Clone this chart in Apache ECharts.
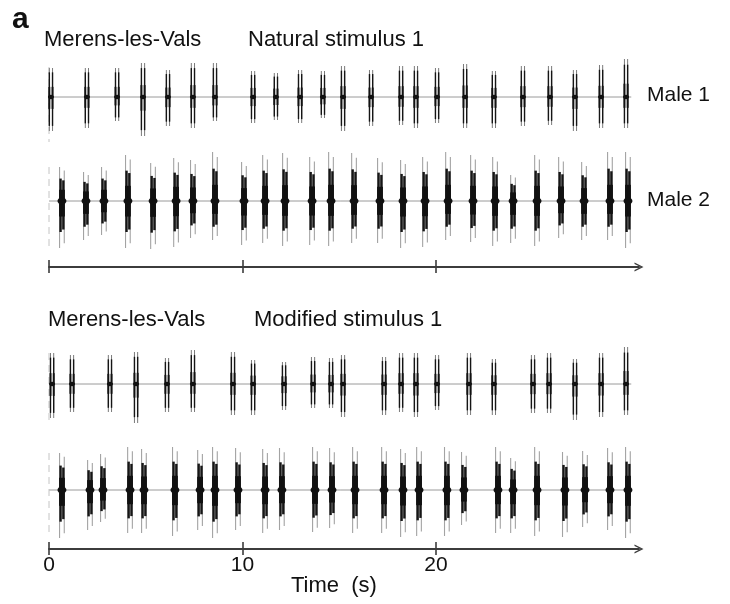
<!DOCTYPE html>
<html>
<head>
<meta charset="utf-8">
<script src="https://cdn.jsdelivr.net/npm/echarts@6/dist/echarts.min.js"></script>
<style>
html, body { margin: 0; padding: 0; background: #fff; }
#chart { width: 730px; height: 604px; }
</style>
</head>
<body>
<div id="chart"></div>
<script>
// burst onset times (s) with upper / lower extent of each burst (amplitude units)
const natMale1Times = [0.10, 1.96, 3.52, 4.86, 6.15, 7.44, 8.58, 10.55, 11.73, 12.98, 14.16, 15.20,
    16.65, 18.20, 18.97, 20.06, 21.51, 23.00, 24.50, 25.90, 27.19, 28.54, 29.83];
const natMale1Up = [29, 29, 29, 34, 27, 34, 34, 26, 24, 27, 26, 31, 27, 31, 31, 29, 33, 26, 31, 31, 27, 32, 38];
const natMale1Down = [34, 31, 24, 39, 29, 31, 24, 26, 23, 26, 21, 34, 29, 28, 31, 26, 31, 31, 29, 28, 34, 31, 31];

const natMale2Times = [0.67, 1.91, 2.84, 4.08, 5.38, 6.57, 7.44, 8.58, 10.08, 11.17, 12.20, 13.60, 14.58,
    15.77, 17.11, 18.30, 19.44, 20.63, 21.92, 23.06, 23.99, 25.23, 26.47, 27.66, 29.00, 29.93];
const natMale2Up = [34, 29, 34, 46, 38, 43, 41, 49, 39, 46, 48, 44, 49, 48, 43, 41, 44, 49, 46, 44, 26, 46, 44, 39, 49, 49];
const natMale2Down = [47, 39, 34, 47, 48, 46, 37, 39, 44, 42, 45, 44, 45, 42, 42, 47, 46, 39, 41, 45, 42, 45, 37, 39, 39, 47];

const modMale1Times = [0.16, 1.19, 3.15, 4.50, 6.10, 7.44, 9.51, 10.55, 12.15, 13.65, 14.58, 15.20,
    17.32, 18.20, 18.97, 20.06, 21.71, 23.00, 25.02, 25.85, 27.19, 28.54, 29.83];
const modMale1Up = [31, 29, 29, 32, 26, 34, 32, 24, 22, 27, 26, 29, 27, 31, 31, 29, 31, 25, 29, 31, 25, 31, 37];
const modMale1Down = [34, 28, 28, 39, 28, 28, 31, 31, 26, 24, 24, 33, 31, 28, 33, 26, 31, 31, 29, 29, 36, 33, 31];

const modMale2Times = [0.67, 2.12, 2.79, 4.19, 4.91, 6.51, 7.81, 8.58, 9.77, 11.17, 12.04, 13.75, 14.63,
    15.82, 17.32, 18.30, 19.13, 20.57, 21.45, 23.21, 23.99, 25.23, 26.67, 27.71, 29.00, 29.93];
const modMale2Up = [37, 30, 36, 43, 41, 43, 40, 43, 42, 41, 42, 43, 42, 43, 43, 41, 43, 43, 38, 43, 32, 43, 38, 39, 42, 43];
const modMale2Down = [48, 40, 32, 43, 43, 46, 40, 48, 40, 43, 40, 42, 38, 43, 43, 47, 46, 46, 35, 43, 43, 46, 47, 37, 40, 48];

const trackEnd = 30.1;
const tickValues = [0, 10, 20];
const X_MAX = 30.5;

const FONT = "Liberation Sans, Arial, sans-serif";
const ARROW = "path://M0,10L5,0L10,10L8.4,10L5,3.2L1.6,10Z";

function burstData(times, up, down) {
    return times.map((t, i) => [t, up[i], down[i]]);
}

// sparse track: two thin pulses per burst
function thinBurst(params, api) {
    const t = api.value(0);
    const top = api.coord([t, api.value(1)]);
    const bot = api.coord([t, -api.value(2)]);
    const x = top[0];
    const y = api.coord([t, 0])[1];
    const hu = y - top[1], hd = bot[1] - y;
    let kids = [];
    [-1.6, 1.6].forEach((dx) => {
        kids.push({type: "line", shape: {x1: x + dx, y1: top[1], x2: x + dx, y2: bot[1]},
            style: {stroke: "#7a7a7a", lineWidth: 1}});
        kids.push({type: "line", shape: {x1: x + dx, y1: y - hu * 0.85, x2: x + dx, y2: y + hd * 0.85},
            style: {stroke: "#151515", lineWidth: 1.4}});
        kids.push({type: "line", shape: {x1: x + dx, y1: y - hu * 0.35, x2: x + dx, y2: y + hd * 0.35},
            style: {stroke: "#111", lineWidth: 1.9}});
    });
    kids.push({type: "ellipse", shape: {cx: x, cy: y, rx: 3, ry: 2.2}, style: {fill: "#111"}});
    return {type: "group", children: kids};
}

// dense track: solid black pulse cores with grey tails
function denseBurst(params, api) {
    const t = api.value(0);
    const top = api.coord([t, api.value(1)]);
    const bot = api.coord([t, -api.value(2)]);
    const x = top[0];
    const y = api.coord([t, 0])[1];
    const hu = y - top[1], hd = bot[1] - y;
    let kids = [];
    [-2.4, 2.3].forEach((dx, k) => {
        const s = k === 0 ? 1 : 0.9;
        kids.push({type: "line", shape: {x1: x + dx, y1: y - hu * s, x2: x + dx, y2: y + hd * s},
            style: {stroke: "#a3a3a3", lineWidth: 1.1}});
    });
    [-1.4, 1.4].forEach((dx, k) => {
        const s = k === 0 ? 1 : 0.92;
        kids.push({type: "line", shape: {x1: x + dx, y1: y - hu * 0.66 * s, x2: x + dx, y2: y + hd * 0.66 * s},
            style: {stroke: "#161616", lineWidth: 2.4}});
        kids.push({type: "line", shape: {x1: x + dx, y1: y - hu * 0.33, x2: x + dx, y2: y + hd * 0.33},
            style: {stroke: "#111", lineWidth: 3}});
    });
    kids.push({type: "ellipse", shape: {cx: x, cy: y, rx: 4.5, ry: 3.5}, style: {fill: "#111"}});
    return {type: "group", children: kids};
}

function hiddenX(gridIndex) {
    return {type: "value", gridIndex: gridIndex, min: 0, max: X_MAX, show: false};
}

function timeAxes(gridIndex, offset, withLabels) {
    const tickStyle = {color: "#3c3c3c", width: 1.6};
    return [
        {
            type: "value", gridIndex: gridIndex, min: 0, max: X_MAX, position: "bottom", offset: offset,
            axisLine: {show: true, onZero: false, symbol: ["none", ARROW], symbolSize: [10, 9],
                lineStyle: {color: "#3c3c3c", width: 2}},
            axisTick: {show: true, inside: false, length: 6, customValues: tickValues, lineStyle: tickStyle},
            axisLabel: {show: withLabels, customValues: tickValues, margin: 6, fontSize: 21,
                color: "#111", fontFamily: FONT},
            splitLine: {show: false},
        },
        {
            type: "value", gridIndex: gridIndex, min: 0, max: X_MAX, position: "bottom", offset: offset,
            axisLine: {show: false, onZero: false},
            axisTick: {show: true, inside: true, length: 7, customValues: tickValues, lineStyle: tickStyle},
            axisLabel: {show: false},
            splitLine: {show: false},
        },
    ];
}

function trackSeries(idx, data, render, markerSpan) {
    return [
        {
            type: "line", xAxisIndex: idx.x, yAxisIndex: idx.y, symbol: "none", silent: true, z: 1,
            data: [[0, 0], [trackEnd, 0]],
            lineStyle: {color: "#9a9a9a", width: 1},
        },
        {
            type: "line", xAxisIndex: idx.x, yAxisIndex: idx.y, symbol: "none", silent: true, z: 1,
            data: [[0, markerSpan[0]], [0, markerSpan[1]]],
            lineStyle: {color: "#c4c4c4", width: 1, type: [7, 5]},
        },
        {
            type: "custom", xAxisIndex: idx.x, yAxisIndex: idx.y, z: 2,
            renderItem: render, data: data,
        },
    ];
}

function title(text, left, top, size, weight) {
    return {
        text: text, left: left, top: top, padding: 0,
        textStyle: {fontSize: size, fontWeight: weight || "normal", color: "#111", fontFamily: FONT},
    };
}

const grids = [
    {left: 49, width: 590, top: 47, height: 100},
    {left: 49, width: 590, top: 151, height: 100},
    {left: 49, width: 590, top: 334, height: 100},
    {left: 49, width: 590, top: 440, height: 100},
];

const xAxes = [hiddenX(0)].concat(timeAxes(1, 16, false), [hiddenX(2)], timeAxes(3, 9, true));
const yAxes = grids.map((g, i) => ({type: "value", gridIndex: i, min: -50, max: 50, show: false}));

const option = {
    animation: false,
    backgroundColor: "#fff",
    title: [
        title("a", 12, 5, 30, "bold"),
        title("Merens-les-Vals", 44, 29, 22),
        title("Natural stimulus 1", 248, 29, 22),
        title("Male 1", 647, 85, 21),
        title("Male 2", 647, 190, 21),
        title("Merens-les-Vals", 48, 309, 22),
        title("Modified stimulus 1", 254, 309, 22),
        title("Time  (s)", 291, 575, 22),
    ],
    grid: grids,
    xAxis: xAxes,
    yAxis: yAxes,
    series: [].concat(
        trackSeries({x: 0, y: 0}, burstData(natMale1Times, natMale1Up, natMale1Down), thinBurst, [30, -45]),
        trackSeries({x: 1, y: 1}, burstData(natMale2Times, natMale2Up, natMale2Down), denseBurst, [34, -49]),
        trackSeries({x: 3, y: 2}, burstData(modMale1Times, modMale1Up, modMale1Down), thinBurst, [31, -36]),
        trackSeries({x: 4, y: 3}, burstData(modMale2Times, modMale2Up, modMale2Down), denseBurst, [37, -47])
    ),
};

const myChart = echarts.init(document.getElementById("chart"));
myChart.setOption(option);
</script>
</body>
</html>
